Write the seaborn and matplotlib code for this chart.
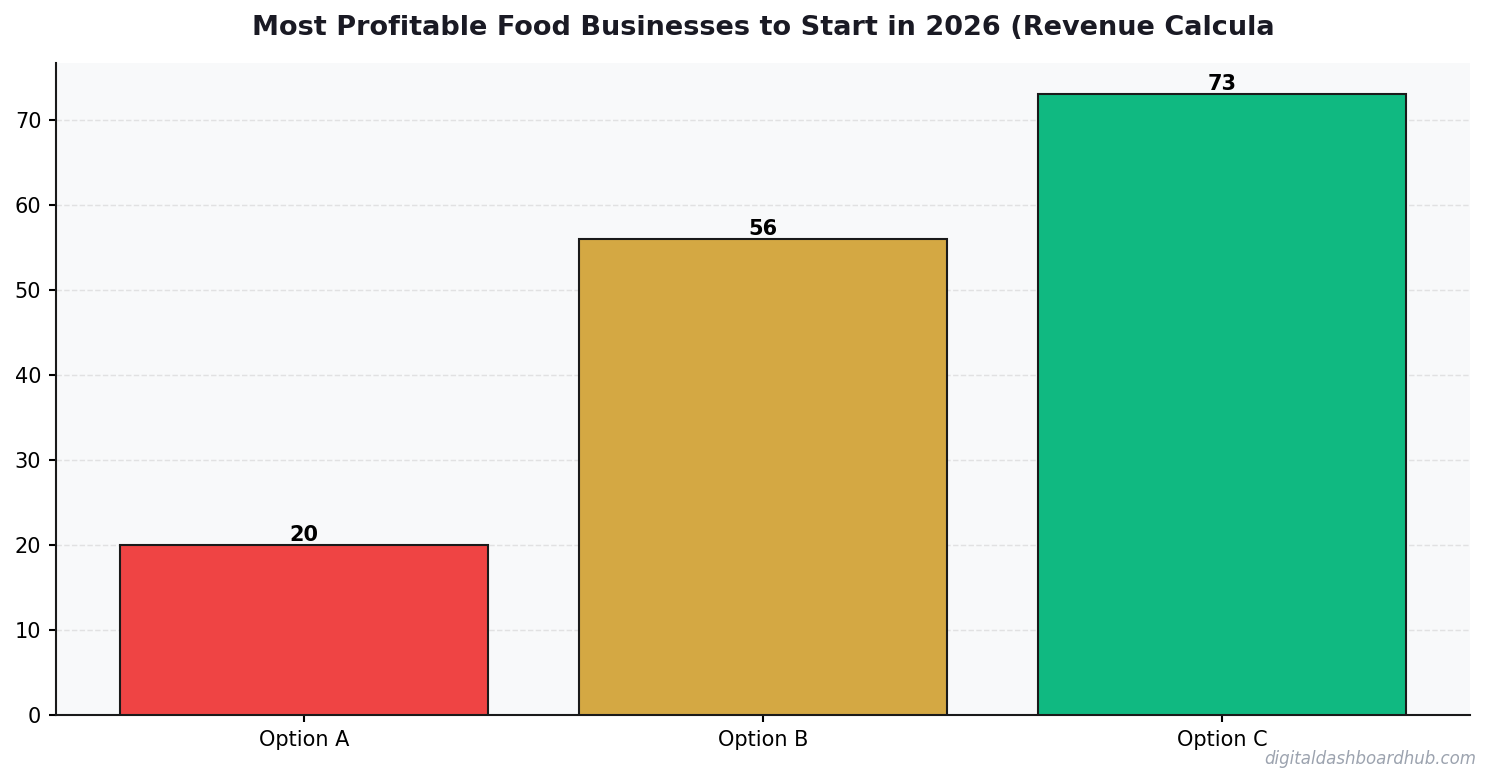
import matplotlib
matplotlib.use("Agg")
import matplotlib.pyplot as plt
import seaborn as sns
import pandas as pd

# chart data
categories = ["Option A", "Option B", "Option C"]
values = [20, 56, 73]
bar_colors = ["#EF4444", "#D4A843", "#10B981"]
title = "Most Profitable Food Businesses to Start in 2026 (Revenue Calcula"
watermark = "digitaldashboardhub.com"

df = pd.DataFrame({"category": categories, "value": values})

sns.set_style("ticks")
plt.rcParams['font.family'] = ['DejaVu Sans']

fig, ax = plt.subplots(figsize=(1492 / 150, 783 / 150), dpi=150)
fig.subplots_adjust(left=0.0375, right=0.9853, top=0.9195, bottom=0.0868)
ax.set_facecolor("#F8F9FA")

sns.barplot(data=df, x="category", y="value", hue="category",
            palette=bar_colors, width=0.8, saturation=1,
            edgecolor="#1a1a1a", linewidth=1.0, legend=False, ax=ax, zorder=3)

# value labels on top of bars
for i, v in enumerate(values):
    ax.text(i, v, f"{v}", ha="center", va="bottom",
            fontsize=10, fontweight="bold", color="black", zorder=4)

ax.set_xlim(-0.54, 2.54)
ax.set_ylim(0, max(values) * 1.05)
ax.set_xlabel("")
ax.set_ylabel("")
ax.tick_params(axis="both", labelsize=10, colors="black", width=1.0, length=3.5)
ax.yaxis.grid(True, linestyle="--", color="#d8d8d8", alpha=0.7, linewidth=0.7, zorder=0)
ax.set_axisbelow(True)
sns.despine(ax=ax)
for side in ["left", "bottom"]:
    ax.spines[side].set_color("#1a1a1a")
    ax.spines[side].set_linewidth(1.0)

ax.set_title(title, fontsize=13, fontweight="bold", color="#1a1a24", pad=13.5)

fig.text(0.9893, 0.019, watermark, ha="right", va="bottom",
         fontsize=8, style="italic", color="#9CA3AF")

fig.savefig("out.png", dpi=150)
